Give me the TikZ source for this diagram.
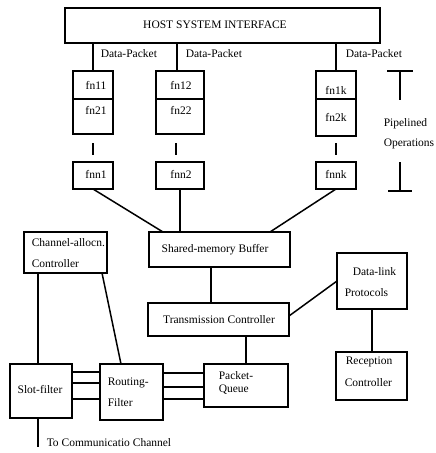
\documentclass[tikz,border=0pt]{standalone}
\usepackage{fontspec}
\setmainfont{Liberation Serif}
\usetikzlibrary{calc}
\newcommand\fs{\fontsize{11.5}{13}\selectfont}
\begin{document}
\begin{tikzpicture}[x=1pt,y=-1pt,line width=1.5pt,
  box/.style={draw,line width=1.5pt,inner sep=0pt,outer sep=0pt,anchor=north west,font=\fs},
  lbl/.style={inner sep=0pt,font=\fs},
  lft/.style={lbl,anchor=west}]
\useasboundingbox (0,0) rectangle (436,453);
% boxes
\node[box,minimum width=315pt,minimum height=35pt] (host) at (65,8) {};
\node[lbl] (hostt) at (215,25) {HOST SYSTEM INTERFACE};
\node[box,minimum width=40pt,minimum height=28pt] (f11) at (73,71) {};
\node[box,minimum width=40pt,minimum height=35pt] (f21) at (73,99) {};
\node[box,minimum width=48pt,minimum height=28pt] (f12) at (156,71) {};
\node[box,minimum width=48pt,minimum height=35pt] (f22) at (156,99) {};
\node[box,minimum width=40pt,minimum height=28pt] (f1k) at (316,71) {};
\node[box,minimum width=40pt,minimum height=37pt] (f2k) at (316,99) {};
\node[lbl] (t11) at (96,85) {fn11};
\node[lbl] (t21) at (96,110) {fn21};
\node[lbl] (t12) at (181,85) {fn12};
\node[lbl] (t22) at (181,110) {fn22};
\node[lbl] (t1k) at (336,90) {fn1k};
\node[lbl] (t2k) at (336,117) {fn2k};
\node[box,minimum width=40pt,minimum height=27pt] (fnn1) at (73,162) {};
\node[box,minimum width=48pt,minimum height=27pt] (fnn2) at (156,162) {};
\node[box,minimum width=40pt,minimum height=27pt] (fnnk) at (316,162) {};
\node[lbl] (tn1) at (96,174) {fnn1};
\node[lbl] (tn2) at (181,174) {fnn2};
\node[lbl] (tnk) at (336,174) {fnnk};
\node[box,minimum width=141pt,minimum height=35pt] (smb) at (149,232) {};
\node[lbl] (smbt) at (215,250) {Shared-memory Buffer};
\node[box,minimum width=83pt,minimum height=41pt] (cac) at (24,232) {};
\node[lft] (cac1) at (31,243) {Channel-allocn.};
\node[lft] (cac2) at (31,264) {Controller};
\node[box,minimum width=70pt,minimum height=56pt] (dlp) at (337,253) {};
\node[lft] (dlp1) at (352,272) {Data-link};
\node[lft] (dlp2) at (344,293) {Protocols};
\node[box,minimum width=141pt,minimum height=33pt] (tc) at (148,303) {};
\node[lbl] (tct) at (219,320) {Transmission Controller};
\node[box,minimum width=71pt,minimum height=48pt] (rc) at (336,352) {};
\node[lft] (rc1) at (345,362) {Reception};
\node[lft] (rc2) at (344,383) {Controller};
\node[box,minimum width=84pt,minimum height=43pt] (pq) at (204,364) {};
\node[lft] (pq1) at (218,376) {Packet-};
\node[lft] (pq2) at (218,390) {Queue};
\node[box,minimum width=63pt,minimum height=56pt] (rf) at (100,364) {};
\node[lft] (rf1) at (107,383) {Routing-};
\node[lft] (rf2) at (107,403) {Filter};
\node[box,minimum width=62pt,minimum height=54pt] (sf) at (10,364) {};
\node[lbl] (sft) at (40,390) {Slot-filter};
% data packet labels
\node[lft] (dp1) at (100,54) {Data-Packet};
\node[lft] (dp2) at (185,54) {Data-Packet};
\node[lft] (dp3) at (345,54) {Data-Packet};
% pipelined bracket
\coordinate (pt1) at (387,71); \coordinate (pt2) at (413,71);
\coordinate (pt3) at (400,71); \coordinate (pt4) at (400,100);
\coordinate (pb1) at (400,162); \coordinate (pb2) at (400,191);
\coordinate (pb3) at (388,191); \coordinate (pb4) at (412,191);
\draw (pt1) -- (pt2) (pt3) -- (pt4) (pb1) -- (pb2) (pb3) -- (pb4);
\node[lft] (pip1) at (383,124) {Pipelined};
\node[lft] (pip2) at (383,144) {Operations};
% connectors
\draw (host.south -| f11.north) -- (f11.north);
\draw ($(host.south west)+(112,0)$) coordinate (h2) -- (h2 |- f12.north);
\draw (host.south -| f1k.north) -- (f1k.north);
\draw ($(f21.south)+(0,9)$) -- ($(fnn1.north)+(0,-7)$);
\draw ($(f22.south)+(-4,9)$) -- ($(fnn2.north)+(-4,-7)$);
\draw ($(f2k.south)+(0,7)$) -- ($(fnnk.north)+(0,-7)$);
\draw (fnn1.south) -- ($(smb.north west)+(14,0)$);
\draw (fnn2.south) -- (fnn2.south |- smb.north);
\draw (fnnk.south) -- ($(smb.north west)+(121,0)$);
\draw ($(smb.south west)+(62,0)$) coordinate (s1) -- (s1 |- tc.north);
\draw (dlp.west) -- ($(tc.north east)+(0,13)$);
\draw (dlp.south) -- (dlp.south |- rc.north);
\draw (pq.north |- tc.south) -- (pq.north);
\draw ($(cac.south west)+(14,0)$) coordinate (c1) -- (c1 |- sf.north);
\draw ($(cac.south east)+(-5,0)$) -- ($(rf.north west)+(21,0)$);
\foreach \o in {8,19,35}
  \draw ($(sf.north east)+(0,\o)$) -- ($(rf.north west)+(0,\o)$);
\foreach \o in {9,23,35}
  \draw ($(rf.north east)+(0,\o)$) -- ($(pq.north west)+(0,\o)$);
\coordinate (chan) at (38,447);
\draw (sf.south -| chan) -- (chan);
\node[lft] (chant) at (46,443) {To Communicatio Channel};
\end{tikzpicture}
\end{document}
